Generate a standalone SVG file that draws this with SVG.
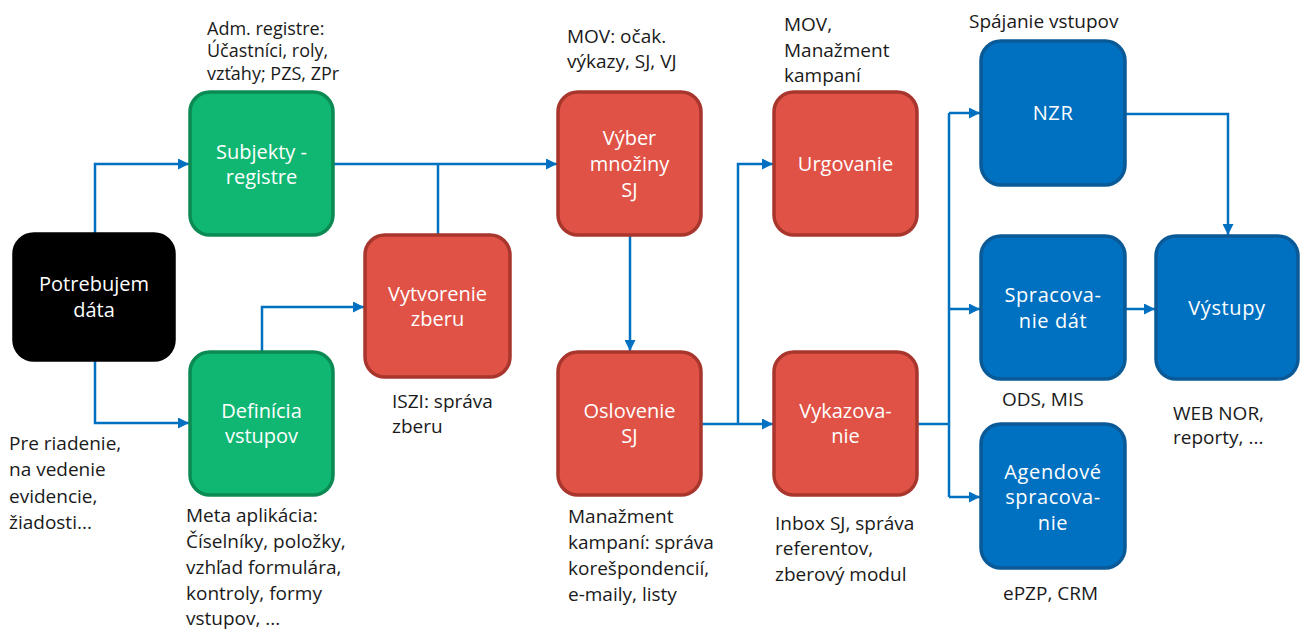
<svg xmlns="http://www.w3.org/2000/svg" width="1305" height="630" viewBox="0 0 1305 630">
<defs>
<style>
.box{stroke-width:3.5}
.green{fill:#10B773;stroke:#0B8A53}
.red{fill:#E05246;stroke:#A8362D}
.blue{fill:#0070C0;stroke:#0A5A98}
.black{fill:#000;stroke:#000}
.bt{font-family:"Open Sans","Noto Sans",sans-serif;font-size:20px;fill:#fff;text-anchor:middle}
.bb{letter-spacing:0.6px}
.lb{font-family:"Open Sans","Noto Sans",sans-serif;font-size:19px;fill:#1a1a1a}
.sm{font-size:18px}
.ct{fill:none;stroke:#0070C0;stroke-width:2.5}
</style>
<marker id="ah" viewBox="0 0 10 10" refX="10" refY="5" markerWidth="4.4" markerHeight="4.4" orient="auto" markerUnits="strokeWidth">
<path d="M0,0 L10,5 L0,10 z" fill="#0070C0"/>
</marker>
</defs>

<g id="connectors">
<path class="ct" d="M95,233 V164 H189" marker-end="url(#ah)"/>
<path class="ct" d="M95,360 V423 H189" marker-end="url(#ah)"/>
<path class="ct" d="M334,164 H557" marker-end="url(#ah)"/>
<path class="ct" d="M438,234 V164"/>
<path class="ct" d="M262,351 V307 H364" marker-end="url(#ah)"/>
<path class="ct" d="M630,236 V351" marker-end="url(#ah)"/>
<path class="ct" d="M702,424 H773" marker-end="url(#ah)"/>
<path class="ct" d="M738,424 V164 H773" marker-end="url(#ah)"/>
<path class="ct" d="M918,424 H949"/>
<path class="ct" d="M949,113 V497"/>
<path class="ct" d="M949,113 H980" marker-end="url(#ah)"/>
<path class="ct" d="M949,309 H980" marker-end="url(#ah)"/>
<path class="ct" d="M949,497 H980" marker-end="url(#ah)"/>
<path class="ct" d="M1126,114 H1228 V235" marker-end="url(#ah)"/>
<path class="ct" d="M1126,309 H1155" marker-end="url(#ah)"/>
</g>

<g id="potrebujem">
<rect class="box black" x="14" y="234" width="160" height="126" rx="20"/>
<text class="bt" x="94" y="291">Potrebujem</text>
<text class="bt" x="94" y="317">dáta</text>
</g>

<g id="subjekty">
<rect class="box green" x="190" y="92" width="143" height="143" rx="20"/>
<text class="bt" x="261.5" y="159">Subjekty -</text>
<text class="bt" x="261.5" y="184">registre</text>
</g>

<g id="definicia">
<rect class="box green" x="190" y="352" width="143" height="143" rx="20"/>
<text class="bt" x="261.5" y="418">Definícia</text>
<text class="bt" x="261.5" y="443">vstupov</text>
</g>

<g id="vytvorenie">
<rect class="box red" x="365" y="235" width="145" height="142" rx="20"/>
<text class="bt" x="437.5" y="301">Vytvorenie</text>
<text class="bt" x="437.5" y="326">zberu</text>
</g>

<g id="vyber">
<rect class="box red" x="558" y="92" width="143" height="143" rx="20"/>
<text class="bt" x="629.5" y="145">Výber</text>
<text class="bt" x="629.5" y="171">množiny</text>
<text class="bt" x="629.5" y="197">SJ</text>
</g>

<g id="oslovenie">
<rect class="box red" x="558" y="352" width="143" height="143" rx="20"/>
<text class="bt" x="629.5" y="418">Oslovenie</text>
<text class="bt" x="629.5" y="443">SJ</text>
</g>

<g id="urgovanie">
<rect class="box red" x="774" y="92" width="143" height="143" rx="20"/>
<text class="bt" x="845.5" y="171">Urgovanie</text>
</g>

<g id="vykazovanie">
<rect class="box red" x="774" y="352" width="143" height="143" rx="20"/>
<text class="bt" x="845.5" y="418">Vykazova-</text>
<text class="bt" x="845.5" y="443">nie</text>
</g>

<g id="nzr">
<rect class="box blue" x="981" y="41" width="144" height="144" rx="20"/>
<text class="bt bb" x="1053" y="120">NZR</text>
</g>

<g id="spracovanie">
<rect class="box blue" x="981" y="236" width="144" height="143" rx="20"/>
<text class="bt bb" x="1053" y="302">Spracova-</text>
<text class="bt bb" x="1053" y="328">nie dát</text>
</g>

<g id="agendove">
<rect class="box blue" x="981" y="424" width="144" height="144" rx="20"/>
<text class="bt bb" x="1053" y="479">Agendové</text>
<text class="bt bb" x="1053" y="504">spracova-</text>
<text class="bt bb" x="1053" y="530">nie</text>
</g>

<g id="vystupy">
<rect class="box blue" x="1156" y="236" width="142" height="143" rx="20"/>
<text class="bt bb" x="1227" y="315">Výstupy</text>
</g>

<g id="labels">
<text class="lb sm" x="207" y="35">Adm. registre:</text>
<text class="lb sm" x="207" y="57">Účastníci, roly,</text>
<text class="lb sm" x="207" y="80">vzťahy; PZS, ZPr</text>

<text class="lb" x="9" y="450">Pre riadenie,</text>
<text class="lb" x="9" y="476">na vedenie</text>
<text class="lb" x="9" y="503">evidencie,</text>
<text class="lb" x="9" y="529">žiadosti...</text>

<text class="lb" x="186" y="522">Meta aplikácia:</text>
<text class="lb" x="186" y="548">Číselníky, položky,</text>
<text class="lb" x="186" y="574">vzhľad formulára,</text>
<text class="lb" x="186" y="600">kontroly, formy</text>
<text class="lb" x="186" y="625">vstupov, ...</text>

<text class="lb" x="392" y="408">ISZI: správa</text>
<text class="lb" x="392" y="433">zberu</text>

<text class="lb" x="567" y="43">MOV: očak.</text>
<text class="lb" x="567" y="68">výkazy, SJ, VJ</text>

<text class="lb" x="784" y="31">MOV,</text>
<text class="lb" x="784" y="57">Manažment</text>
<text class="lb" x="784" y="82">kampaní</text>

<text class="lb" x="568" y="523">Manažment</text>
<text class="lb" x="568" y="549">kampaní: správa</text>
<text class="lb" x="568" y="575">korešpondencií,</text>
<text class="lb" x="568" y="601">e-maily, listy</text>

<text class="lb" x="775" y="530">Inbox SJ, správa</text>
<text class="lb" x="775" y="555">referentov,</text>
<text class="lb" x="775" y="581">zberový modul</text>

<text class="lb" x="969" y="28">Spájanie vstupov</text>
<text class="lb" x="1002" y="406">ODS, MIS</text>
<text class="lb" x="1173" y="420">WEB NOR,</text>
<text class="lb" x="1173" y="444">reporty, ...</text>
<text class="lb" x="1003" y="600">ePZP, CRM</text>
</g>
</svg>
